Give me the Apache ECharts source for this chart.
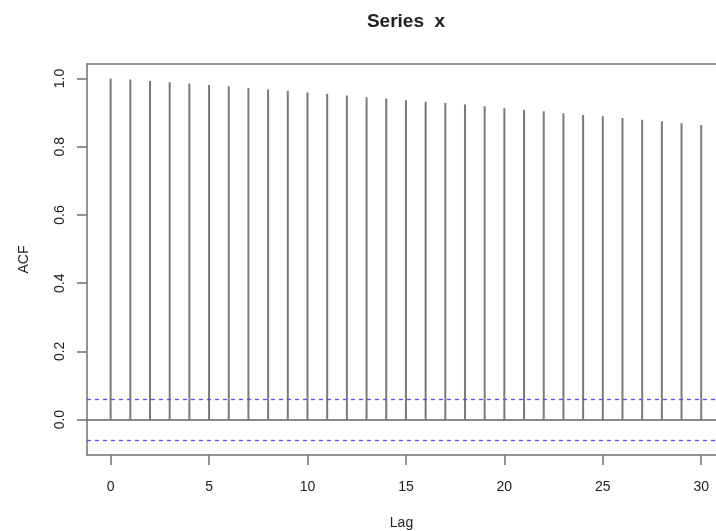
<!DOCTYPE html>
<html>
<head>
<meta charset="utf-8">
<script src="https://cdn.jsdelivr.net/npm/echarts@6/dist/echarts.min.js"></script>
<style>html,body{margin:0;padding:0;background:#fff}#c{width:716px;height:531px}</style>
</head>
<body>
<div id="c"></div>
<script>
// ---- data ----
var lags = [0,1,2,3,4,5,6,7,8,9,10,11,12,13,14,15,16,17,18,19,20,21,22,23,24,25,26,27,28,29,30];
var acf = [1.000,0.997,0.993,0.989,0.985,0.981,0.977,0.972,0.968,0.964,0.959,0.955,0.950,0.945,0.941,0.936,0.932,0.928,0.924,0.919,0.913,0.908,0.904,0.898,0.893,0.889,0.884,0.879,0.875,0.869,0.864];
var ciBound = 0.062;
var xTicks = [0,5,10,15,20,25,30];
var yTicks = [0.0,0.2,0.4,0.6,0.8,1.0];
var titleText = 'Series  x';
var xName = 'Lag';
var yName = 'ACF';

var font = 'Liberation Sans, Arial, Helvetica, sans-serif';
var boxColor = '#707070';
var chart = echarts.init(document.getElementById('c'), null, {renderer:'canvas'});
var spikeData = lags.map(function(l,i){ return [l, acf[i]]; });

chart.setOption({
  animation: false,
  backgroundColor: '#fff',
  title: {
    text: titleText, left: 406, top: 12, textAlign: 'center', padding: 0,
    textStyle: {fontFamily: font, fontSize: 19, fontWeight: 'bold', color: '#222'}
  },
  grid: {
    left: 87, top: 64, width: 629, height: 391, show: false,
    containLabel: false, outerBoundsMode: 'none'
  },
  xAxis: [{
    type: 'value', min: -1.2, max: 30.75, position: 'bottom',
    name: xName, nameLocation: 'middle', nameGap: 61,
    nameTextStyle: {fontFamily: font, fontSize: 14, color: '#222'},
    axisLine: {show: true, onZero: false, lineStyle: {color: boxColor, width: 1.5}},
    splitLine: {show: false},
    axisTick: {show: true, inside: false, length: 10, customValues: xTicks, lineStyle: {color: boxColor, width: 1.5}},
    axisLabel: {customValues: xTicks, margin: 25, fontFamily: font, fontSize: 14, color: '#222'}
  }, {
    type: 'value', min: -1.2, max: 30.75, position: 'top',
    axisLine: {show: true, onZero: false, lineStyle: {color: boxColor, width: 1.5}},
    splitLine: {show: false}, axisTick: {show: false}, axisLabel: {show: false}
  }],
  yAxis: {
    type: 'value', min: -0.1038, max: 1.0425,
    name: yName, nameLocation: 'middle', nameGap: 56, nameRotate: 90,
    nameTextStyle: {fontFamily: font, fontSize: 14, color: '#222'},
    axisLine: {show: true, onZero: false, lineStyle: {color: boxColor, width: 1.5}},
    splitLine: {show: false},
    axisTick: {show: true, inside: false, length: 10, customValues: yTicks, lineStyle: {color: boxColor, width: 1.5}},
    axisLabel: {customValues: yTicks, rotate: 90, margin: 20, fontFamily: font, fontSize: 14, color: '#222',
      formatter: function(v){ return v.toFixed(1); }}
  },
  series: [
    {
      type: 'custom',
      xAxisIndex: 0,
      data: spikeData,
      renderItem: function(params, api){
        var p0 = api.coord([api.value(0), 0]);
        var p1 = api.coord([api.value(0), api.value(1)]);
        return {type: 'line', shape: {x1: p0[0], y1: p0[1], x2: p1[0], y2: p1[1]},
          style: {stroke: '#7a7a7a', lineWidth: 2}};
      },
      markLine: {
        silent: true, symbol: 'none', label: {show: false}, z: 10,
        data: [
          {yAxis: 0, lineStyle: {color: '#606060', width: 1.5, type: 'solid'}},
          {yAxis: ciBound, lineStyle: {color: '#4d4dff', width: 1.3, type: [4,4]}},
          {yAxis: -ciBound, lineStyle: {color: '#4d4dff', width: 1.3, type: [4,4]}}
        ]
      }
    }
  ]
});
</script>
</body>
</html>
